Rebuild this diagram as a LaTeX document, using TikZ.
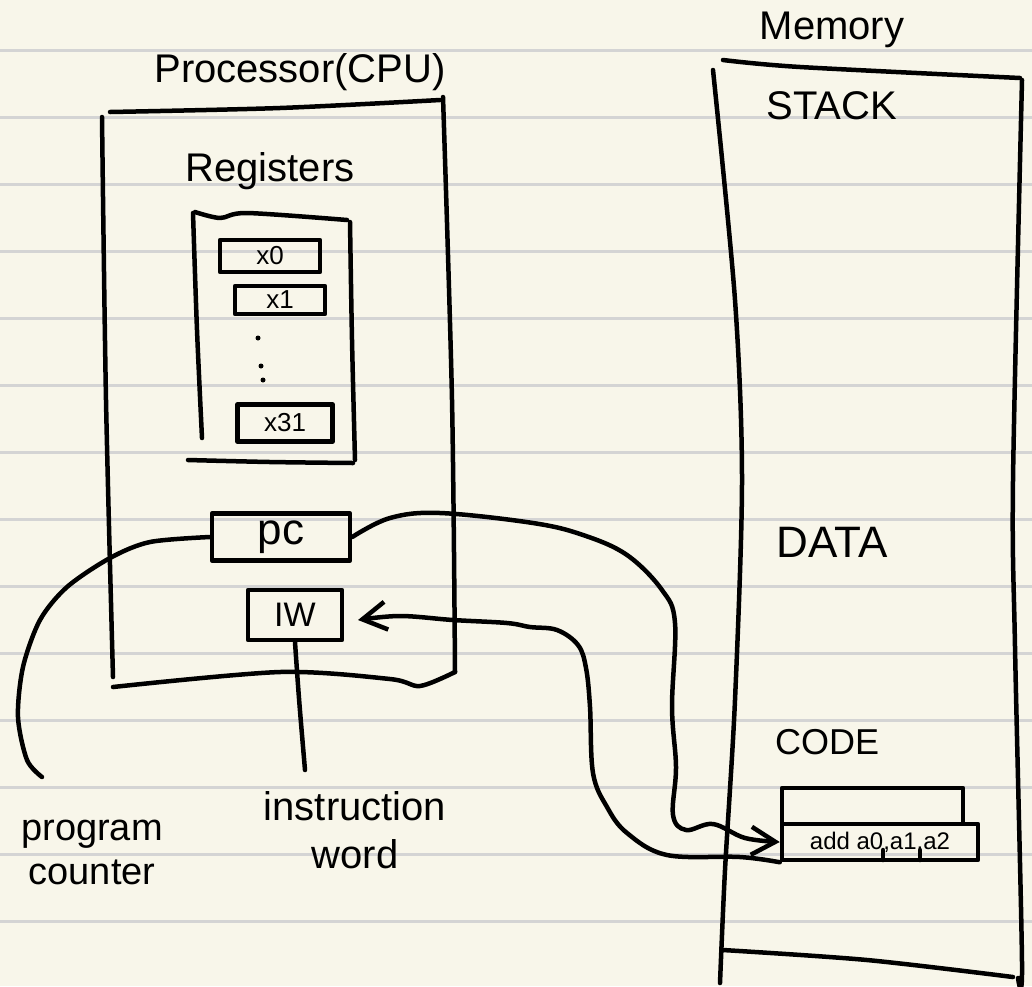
\documentclass[tikz,border=0pt]{standalone}
\usepackage{fontspec}
\setmainfont{Liberation Sans}
\usetikzlibrary{arrows.meta}
\definecolor{paper}{RGB}{248,246,234}
\definecolor{rulegray}{RGB}{212,212,212}
\begin{document}
\begin{tikzpicture}[x=1pt,y=-1pt,
  ink/.style={line width=4.5pt, line cap=round, line join=round, black},
  box/.style={draw, ink, inner sep=0pt, minimum width=#1},
  lbl/.style={inner sep=0pt, font=\fontsize{#1}{#1}\selectfont},
  hd/.style={-{Straight Barb[length=24pt,width=28pt,line width=4.5pt]}}
]
\useasboundingbox (0,0) rectangle (1032,986);
\fill[paper] (0,0) rectangle (1032,986);
% ruled paper lines
\foreach \k in {0,...,13}{
  \draw[rulegray, line width=3pt] (0,{50+67*\k}) -- (1032,{50+67*\k});
}

% ---------------- Processor ----------------
\node[lbl=40] (proctitle) at (300,72) {Processor(CPU)};
\draw[ink] plot[smooth] coordinates {(110,112) (280,108) (440,100)};
\draw[ink] plot[smooth] coordinates {(102,117) (106,400) (113,677)};
\draw[ink] plot[smooth] coordinates {(443,97) (452,400) (455,672)};
\draw[ink] plot[smooth] coordinates {(113,687) (280,672) (390,679) (420,686) (455,672)};

\node[lbl=40] (regtitle) at (270,171) {Registers};
\draw[ink] plot[smooth] coordinates {(195,212) (220,218) (247,213) (347,220)};
\draw[ink] plot[smooth] coordinates {(193,213) (197,330) (202,438)};
\draw[ink] plot[smooth] coordinates {(350,222) (352,340) (355,460)};
\draw[ink] plot[smooth] coordinates {(188,460) (270,462) (353,463)};

\node[box=100pt, minimum height=32pt, lbl=26] (x0) at (270,256) {x0};
\node[box=90pt, minimum height=28pt, lbl=26] (x1) at (280,300) {x1};
\fill (258,338) circle (2.5pt);
\fill (261,366) circle (2.5pt);
\fill (263,380) circle (2.5pt);
\node[box=95pt, minimum height=37pt, lbl=26] (x31) at (285,423) {x31};

\node[box=138pt, minimum height=47pt, lbl=44] (pc) at (281,537) {pc};
\node[box=94pt, minimum height=50pt, lbl=34] (iw) at (295,615) {IW};

% ---------------- Memory ----------------
\node[lbl=40] (memtitle) at (832,30) {Memory};
\draw[ink] plot[smooth] coordinates {(723,60) (800,67) (1020,78)};
\draw[ink] plot[smooth] coordinates {(713,70) (735,300) (742,480) (735,700) (725,870) (720,983)};
\draw[ink] plot[smooth] coordinates {(1022,80) (1013,480) (1015,647) (1022,963) (1018,978)};
\draw[ink] plot[smooth] coordinates {(723,950) (867,960) (1013,977)};

\node[lbl=40] (stack) at (832,106) {STACK};
\node[lbl=44] (data) at (832,542) {DATA};
\node[lbl=36] (code) at (827,742) {CODE};

\node[box=181pt, minimum height=36pt] (slot) at (872.5,806) {};
\node[box=196pt, minimum height=36pt, lbl=24] (addrow) at (880,842) {add a0,a1,a2};
\draw[ink] (883,850) -- (883,860);
\draw[ink] (920,850) -- (920,860);

% ---------------- Labels ----------------
\node[lbl=38, align=center] (pclbl) at (92,852) {program\\[6pt]counter};
\node[lbl=40, align=center] (iwlbl) at (355,830) {instruction\\[8pt]word};
\coordinate (pcend) at (42,777);
\coordinate (iwtip) at (358,620);

% ---------------- Connectors ----------------
\draw[ink, hd] plot[smooth, tension=0.6] coordinates {(pc.east) (390,518) (440,513) (533,523) (583,535) (627,555) (662,590) (675,623) (672,707) (676,767) (673,815) (686,830) (713,824) (745,838) (addrow.west)};
\draw[ink, hd] plot[smooth, tension=0.6] coordinates {(addrow.south west) (740,857) (667,855) (627,833) (607,807) (593,773) (590,707) (586,668) (578,645) (557,630) (530,627) (507,623) (453,620) (400,616) (iwtip)};
\draw[ink] plot[smooth] coordinates {(pc.west) (150,542) (110,558) (67,587) (40,620) (23,667) (18,717) (27,760) (pcend)};
\draw[ink] (iw.south) .. controls (299,700) .. (305,770);
\end{tikzpicture}
\end{document}
